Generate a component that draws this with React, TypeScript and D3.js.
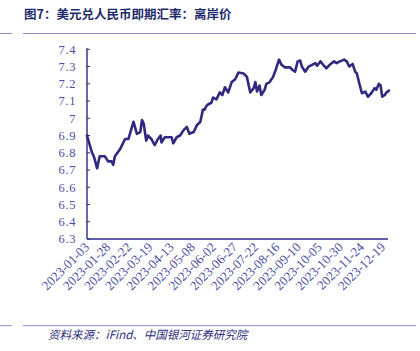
import React from "react";
import * as d3 from "d3";

const dates: string[] = [
  "2023-01-03","2023-01-09","2023-01-11","2023-01-15","2023-01-18","2023-01-24","2023-01-28",
  "2023-02-01","2023-02-03","2023-02-05","2023-02-11","2023-02-17","2023-02-21","2023-02-27",
  "2023-03-03","2023-03-07","2023-03-09","2023-03-11","2023-03-14","2023-03-16","2023-03-20",
  "2023-03-24","2023-03-28","2023-03-31","2023-04-01","2023-04-05","2023-04-13","2023-04-15",
  "2023-04-19","2023-04-23","2023-04-27","2023-05-01","2023-05-04","2023-05-09","2023-05-13",
  "2023-05-17","2023-05-20","2023-05-22","2023-05-24","2023-05-26","2023-05-30","2023-06-01",
  "2023-06-05","2023-06-09","2023-06-12","2023-06-15","2023-06-19","2023-06-23","2023-06-27",
  "2023-07-01","2023-07-07","2023-07-11","2023-07-15","2023-07-19","2023-07-21","2023-07-23",
  "2023-07-26","2023-07-28","2023-08-01","2023-08-03","2023-08-07","2023-08-11","2023-08-14",
  "2023-08-18","2023-08-21","2023-08-25","2023-08-31","2023-09-03","2023-09-06","2023-09-09",
  "2023-09-12","2023-09-14","2023-09-18","2023-09-22","2023-09-26","2023-09-30","2023-10-02",
  "2023-10-06","2023-10-10","2023-10-13","2023-10-18","2023-10-22","2023-10-25","2023-10-29",
  "2023-11-03","2023-11-06","2023-11-09","2023-11-13","2023-11-16","2023-11-18","2023-11-21",
  "2023-11-24","2023-11-28","2023-12-01","2023-12-05","2023-12-09","2023-12-11","2023-12-14",
  "2023-12-16","2023-12-18","2023-12-21","2023-12-23","2023-12-26",
];

const rates: number[] = [
  6.90, 6.80, 6.78, 6.71, 6.78, 6.78, 6.75,
  6.75, 6.73, 6.78, 6.82, 6.88, 6.88, 6.98,
  6.91, 6.92, 6.99, 6.97, 6.87, 6.90, 6.88,
  6.845, 6.88, 6.90, 6.86, 6.89, 6.89, 6.855,
  6.89, 6.90, 6.93, 6.95, 6.91, 6.92, 6.96,
  6.98, 7.05, 7.05, 7.07, 7.08, 7.09, 7.12,
  7.11, 7.15, 7.135, 7.18, 7.15, 7.21, 7.225,
  7.265, 7.26, 7.24, 7.15, 7.175, 7.21, 7.155,
  7.19, 7.135, 7.165, 7.20, 7.21, 7.24, 7.28,
  7.34, 7.31, 7.295, 7.295, 7.28, 7.27, 7.33,
  7.335, 7.30, 7.27, 7.30, 7.31, 7.32, 7.305,
  7.33, 7.305, 7.29, 7.315, 7.33, 7.32, 7.33,
  7.34, 7.33, 7.30, 7.315, 7.27, 7.26, 7.20,
  7.145, 7.155, 7.125, 7.145, 7.175, 7.165, 7.20,
  7.19, 7.125, 7.135, 7.15, 7.16,
];

const xTickLabels: string[] = [
  "2023-01-03","2023-01-28","2023-02-22","2023-03-19","2023-04-13",
  "2023-05-08","2023-06-02","2023-06-27","2023-07-22","2023-08-16",
  "2023-09-10","2023-10-05","2023-10-30","2023-11-24","2023-12-19",
];

const yTicks: number[] = [6.3, 6.4, 6.5, 6.6, 6.7, 6.8, 6.9, 7.0, 7.1, 7.2, 7.3, 7.4];

const titleText = "图7：美元兑人民币即期汇率：离岸价";
const sourceText = "资料来源：iFind、中国银河证券研究院";

const W = 420;
const H = 351;
const left = 87;
const right = 389;
const top = 49.3;
const bottom = 239;

export default function App() {
  const parse = d3.utcParse("%Y-%m-%d");
  const data = dates.map((d, i) => ({ date: parse(d) as Date, v: rates[i] }));

  const x = d3
    .scaleUtc()
    .domain([parse("2023-01-03") as Date, parse("2023-12-26") as Date])
    .range([left, right]);
  const y = d3.scaleLinear().domain([6.3, 7.4]).range([bottom, top]);

  const line = d3
    .line<{ date: Date; v: number }>()
    .x((d) => x(d.date))
    .y((d) => y(d.v))
    .curve(d3.curveLinear);

  const axisColor = "#2b2a8a";
  const labelColor = "#4e4ea2";
  const sepColor = "#8e8bc6";

  return (
    <svg
      width={W}
      height={H}
      style={{ position: "absolute", left: 0, top: 0, background: "#fff" }}
    >
      <text
        x={24}
        y={18.5}
        fontFamily="'Noto Sans CJK SC', sans-serif"
        fontWeight={700}
        fontSize={12.5}
        fill="#1f2a6c"
      >
        {titleText}
      </text>
      <line x1={0} x2={12} y1={33.5} y2={33.5} stroke={sepColor} strokeWidth={1} />
      <line x1={23} x2={416} y1={33.5} y2={33.5} stroke={sepColor} strokeWidth={1} />

      {yTicks.map((t) => (
        <g key={t}>
          <line
            x1={left}
            x2={left + 3}
            y1={y(t)}
            y2={y(t)}
            stroke={axisColor}
            strokeWidth={1}
          />
          <text
            x={76}
            y={y(t)}
            dy="0.35em"
            textAnchor="end"
            fontFamily="'Liberation Serif', serif"
            fontSize={12.5}
            letterSpacing={0.6}
            fill={labelColor}
          >
            {d3.format(".1~f")(t)}
          </text>
        </g>
      ))}

      <line x1={left} x2={left} y1={top - 1} y2={bottom} stroke={axisColor} strokeWidth={1.4} />
      <line x1={left} x2={right - 1} y1={bottom} y2={bottom} stroke={axisColor} strokeWidth={1.4} />

      {xTickLabels.map((s) => {
        const px = x(parse(s) as Date) + 3;
        const py = bottom + 9;
        return (
          <text
            key={s}
            x={px}
            y={py}
            textAnchor="end"
            transform={`rotate(-45, ${px}, ${py})`}
            fontFamily="'Liberation Serif', serif"
            fontSize={13}
            fill={labelColor}
          >
            {s}
          </text>
        );
      })}

      <path
        d={line(data) || ""}
        fill="none"
        stroke="#2f2a80"
        strokeWidth={2.6}
        strokeLinejoin="round"
        strokeLinecap="round"
      />

      <line x1={0} x2={12} y1={325.7} y2={325.7} stroke={sepColor} strokeWidth={1} />
      <line x1={23} x2={416} y1={325.7} y2={325.7} stroke={sepColor} strokeWidth={1} />
      <text
        x={48}
        y={339}
        fontFamily="'Noto Sans CJK SC', sans-serif"
        fontStyle="italic"
        fontSize={11.5}
        fill="#2d2d7c"
      >
        {sourceText}
      </text>
    </svg>
  );
}
